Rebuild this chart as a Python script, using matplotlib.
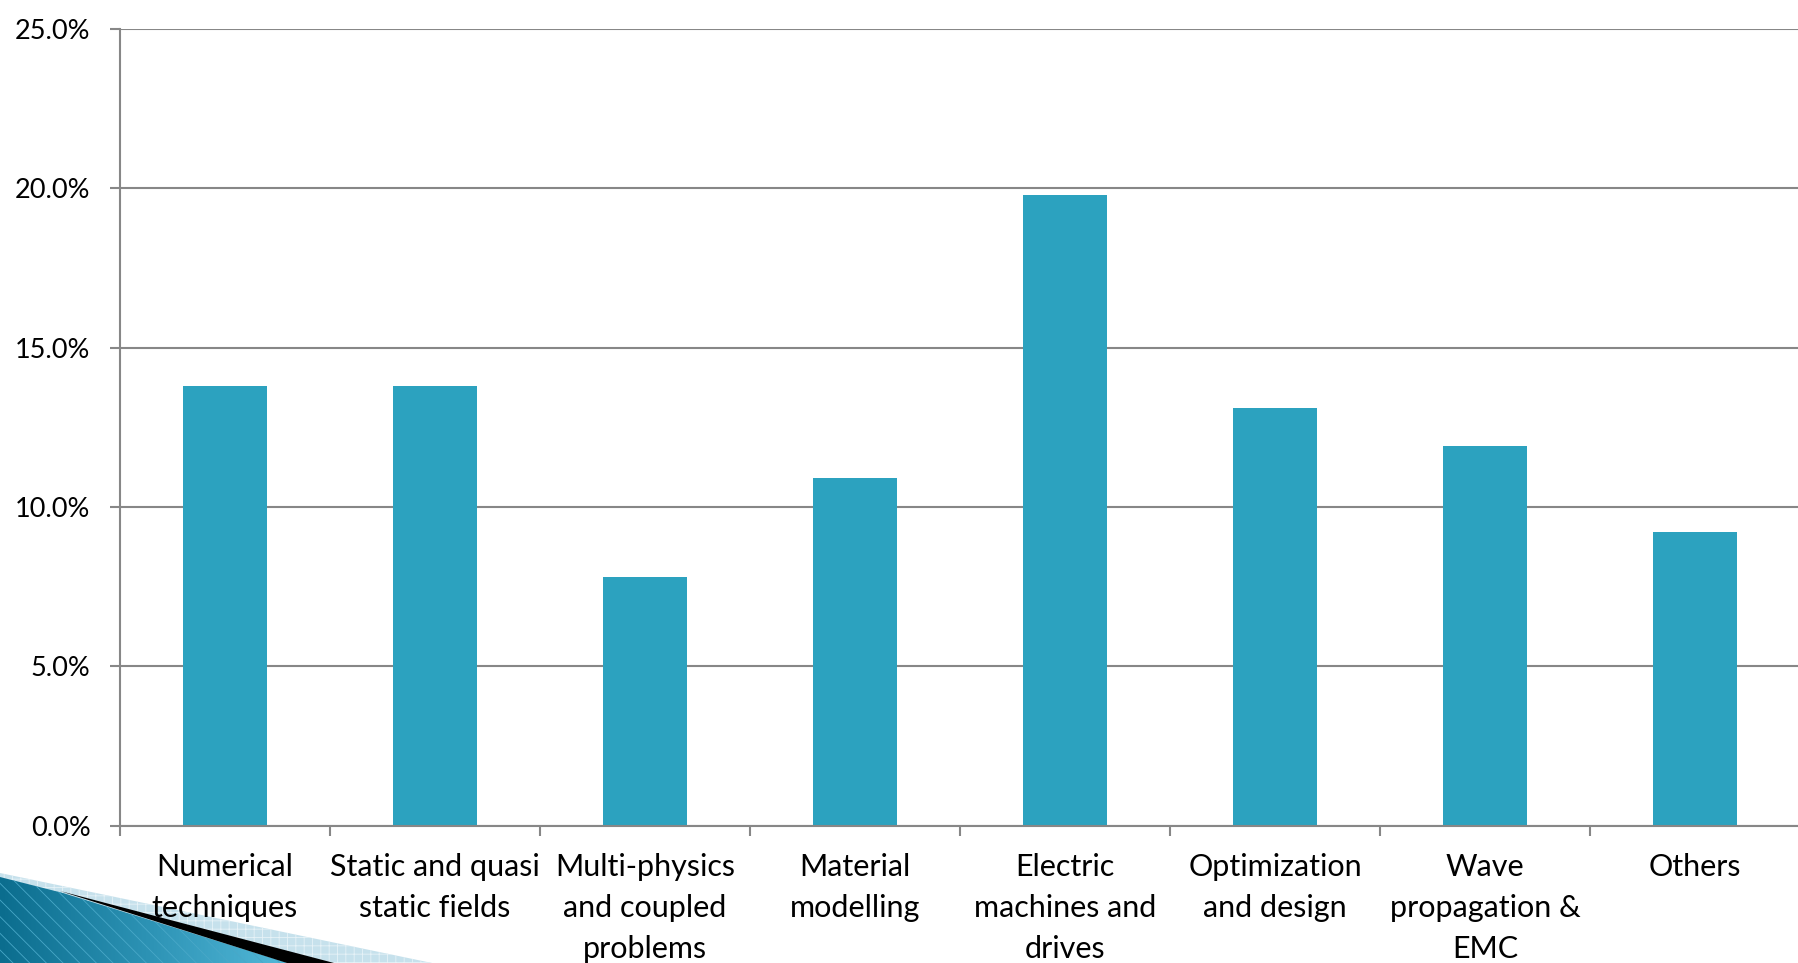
import matplotlib
matplotlib.use("Agg")
import matplotlib.pyplot as plt
import matplotlib.transforms as mtransforms
import numpy as np
from matplotlib.patches import Polygon

# ---- data -------------------------------------------------------------
categories = [
    "Numerical\ntechniques",
    "Static and quasi\nstatic fields",
    "Multi-physics\nand coupled\nproblems",
    "Material\nmodelling",
    "Electric\nmachines and\ndrives",
    "Optimization\nand design",
    "Wave\npropagation &\nEMC",
    "Others",
]
shares = [13.8, 13.8, 7.8, 10.9, 19.8, 13.1, 11.9, 9.2]   # percent
y_ticks = [0, 5, 10, 15, 20, 25]
y_tick_labels = ["0.0%", "5.0%", "10.0%", "15.0%", "20.0%", "25.0%"]

# ---- figure -----------------------------------------------------------
W, H = 1798, 963
DPI = 100
plt.rcParams["hatch.linewidth"] = 0.6
fig = plt.figure(figsize=(W / DPI, H / DPI), dpi=DPI)
fig.patch.set_facecolor("white")

BAR = "#2ca2bf"
GRID = "#878787"
FONT = "Lato"

# main plotting area (pixel geometry converted to figure fractions)
left, right, top, bottom = 120, 1800, 29, 825.5
ax = fig.add_axes([left / W, (H - bottom) / H, (right - left) / W, (bottom - top) / H])
ax.set_facecolor("none")

x = np.arange(len(categories))
ax.bar(x, shares, width=0.4, color=BAR, zorder=2)

ax.set_xlim(-0.5, len(categories) - 0.5)
ax.set_ylim(0, 25)

ax.set_yticks(y_ticks)
ax.set_yticklabels(y_tick_labels, fontsize=19.5, family=FONT)
ax.yaxis.grid(True, color=GRID, linewidth=1.5, zorder=1)
ax.set_axisbelow(True)

# nudge the percentage labels slightly upward
lift = mtransforms.ScaledTranslation(0, 4 / DPI, fig.dpi_scale_trans)
for lbl in ax.get_yticklabels():
    lbl.set_transform(lbl.get_transform() + lift)

ax.set_xticks(x)
ax.set_xticklabels(categories, fontsize=22, family=FONT, linespacing=1.55,
                   va="top")
ax.set_xticks(np.arange(-0.5, len(categories), 1.0), minor=True)

ax.tick_params(axis="y", which="major", direction="out", length=7.2,
               width=1.5, color=GRID, pad=14)
ax.tick_params(axis="x", which="major", length=0, pad=20)
ax.tick_params(axis="x", which="minor", direction="out", length=7.2,
               width=1.5, color=GRID)

for side in ("top", "right"):
    ax.spines[side].set_visible(False)
for side in ("left", "bottom"):
    ax.spines[side].set_color(GRID)
    ax.spines[side].set_linewidth(1.5)

# ---- slide ornament in the lower-left corner ---------------------------
deco = fig.add_axes([0, 0, 500 / W, 100 / H], zorder=-1)
deco.axis("off")

light = Polygon([(0, 873), (432, 963), (0, 963)], closed=True,
                facecolor="#c6e1ec", edgecolor="#e6f2f7", hatch="++",
                linewidth=0, zorder=1)
deco.add_patch(light)

teal_pts = [(0, 877), (63, 893), (288, 963), (0, 963)]
teal = Polygon(teal_pts, closed=True, facecolor="none", edgecolor="none",
               zorder=2)
deco.add_patch(teal)
grad = np.linspace(0, 1, 256).reshape(1, -1)
cmap = matplotlib.colors.LinearSegmentedColormap.from_list(
    "teal", ["#0b6d8e", "#2d93b5", "#56bcdc"])
img = deco.imshow(grad, extent=[0, 300, 963, 870], cmap=cmap, aspect="auto",
                  origin="upper", zorder=2)
img.set_clip_path(teal)
stripes = Polygon(teal_pts, closed=True, facecolor="none",
                  edgecolor="#49a8c8", hatch="\\\\", linewidth=0, zorder=3)
deco.add_patch(stripes)

black = Polygon([(60, 891), (334, 963), (287, 963)], closed=True,
                facecolor="black", edgecolor="none", zorder=4)
deco.add_patch(black)

deco.set_xlim(0, 500)
deco.set_ylim(963, 863)

fig.savefig("out.png", dpi=DPI, facecolor="white")
